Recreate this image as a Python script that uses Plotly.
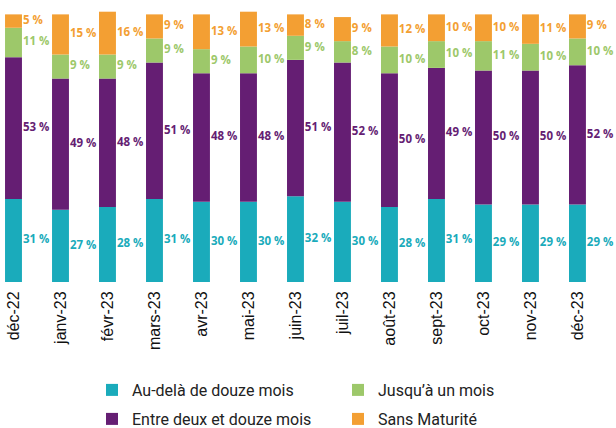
import plotly.graph_objects as go

months = ["déc-22", "janv-23", "févr-23", "mars-23", "avr-23", "mai-23", "juin-23",
          "juil-23", "août-23", "sept-23", "oct-23", "nov-23", "déc-23"]
au_dela = [31, 27, 28, 31, 30, 30, 32, 30, 28, 31, 29, 29, 29]
entre = [53, 49, 48, 51, 48, 48, 51, 52, 50, 49, 50, 50, 52]
jusqua = [11, 9, 9, 9, 9, 10, 9, 8, 10, 10, 11, 10, 10]
sans = [5, 15, 16, 9, 13, 13, 8, 9, 12, 10, 10, 11, 9]

series = [
    ("Au-delà de douze mois", au_dela, "#1AABBB", "legend"),
    ("Entre deux et douze mois", entre, "#651E73", "legend2"),
    ("Jusqu’à un mois", jusqua, "#9DC86A", "legend"),
    ("Sans Maturité", sans, "#F39F33", "legend2"),
]

x = list(range(len(months)))
bw = 0.36
fig = go.Figure()
base = [0] * len(months)
for name, vals, color, leg in series:
    fig.add_trace(go.Bar(
        x=x, y=vals, base=base, name=name, marker_color=color, width=bw,
        marker_line_width=0, legend=leg, hoverinfo="skip",
    ))
    mids = [b + v / 2 for b, v in zip(base, vals)]
    fig.add_trace(go.Scatter(
        x=[i + bw / 2 + 0.02 for i in x], y=mids, mode="text",
        text=[f"{v} %" for v in vals], textposition="middle right",
        textfont=dict(family="Open Sans", size=11.5, color=color, weight=700),
        showlegend=False, hoverinfo="skip",
    ))
    base = [b + v for b, v in zip(base, vals)]

legfont = dict(family="Roboto", size=16, color="#222222")
fig.update_layout(
    width=616, height=428,
    margin=dict(l=0, r=0, t=1, b=146, autoexpand=False),
    plot_bgcolor="white", paper_bgcolor="white",
    barmode="overlay",
    showlegend=True,
    legend=dict(
        orientation="h", x=92 / 616, xanchor="left", xref="container",
        y=1 - 390 / 428, yanchor="middle", yref="container",
        font=legfont, entrywidth=201, traceorder="normal",
    ),
    legend2=dict(
        orientation="h", x=92 / 616, xanchor="left", xref="container",
        y=1 - 419 / 428, yanchor="middle", yref="container",
        font=legfont, entrywidth=201, traceorder="normal",
    ),
)
fig.update_xaxes(
    range=[-0.287, 12.82], tickmode="array", tickvals=x, ticktext=months,
    tickangle=-90, tickfont=dict(family="Liberation Sans, Arial", size=16, color="#111111"),
    showgrid=False, zeroline=False, showline=False, automargin=False,
    ticks="outside", ticklen=2, tickcolor="rgba(0,0,0,0)",
)
fig.update_yaxes(range=[0, 105], visible=False, showgrid=False, zeroline=False, automargin=False)

fig.write_html(
    "out.html",
    config={"displayModeBar": False},
    post_script="document.body.style.margin='0';document.body.style.overflow='hidden';",
)
